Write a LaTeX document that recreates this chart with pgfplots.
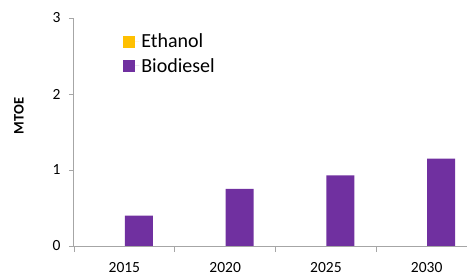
\documentclass[border=0pt]{standalone}
\usepackage{pgfplots}
\pgfplotsset{compat=1.18}
\usepackage{fontspec}
\setmainfont{Carlito}
\definecolor{biod}{HTML}{7030A0}
\definecolor{eth}{HTML}{FFC000}
\definecolor{axgray}{HTML}{A6A6A6}
\begin{document}
\begin{tikzpicture}
\begin{axis}[
  scale only axis,
  axis on top,
  width=393pt, height=228pt,
  xmin=-0.5, xmax=3.4,
  ymin=0, ymax=3,
  axis lines*=left,
  axis line style={axgray, line width=1pt},
  every tick/.style={axgray, line width=0.8pt},
  tick align=outside,
  xtick={0,1,2,3},
  xticklabels={2015,2020,2025,2030},
  major x tick style={draw=none},
  minor xtick={-0.5,0.5,1.5,2.5},
  minor tick length=6pt,
  ytick={0,1,2,3},
  major tick length=5pt,
  ticklabel style={font=\fontsize{15.5}{17}\selectfont, text=black},
  /pgf/number format/assume math mode=true,
  ylabel={\bfseries MTOE},
  ylabel style={font=\fontsize{14.5}{16}\selectfont, at={(rel axis cs:0,0.5)}, anchor=center, xshift=16pt, yshift=55pt},
  xticklabel style={anchor=north, yshift=-8pt},
  yticklabel style={anchor=east, xshift=-5pt},
  legend style={draw=none, fill=none, at={(0.125,0.94)}, anchor=north west,
    font=\fontsize{20}{22}\selectfont, row sep=5pt, inner sep=0pt},
  legend cell align=left,
  legend image code/.code={\fill[#1] (0pt,-6pt) rectangle (12pt,6pt); \path (0pt,0pt) -- (16pt,0pt);},
  clip=false,
]
\addplot[ybar, bar width=28pt, bar shift=-14.5pt, draw=none, fill=eth] coordinates {(0,0) (1,0) (2,0) (3,0)};
\addlegendentry{Ethanol}
\addplot[ybar, bar width=28pt, bar shift=14.5pt, draw=none, fill=biod] coordinates {(0,0.40) (1,0.75) (2,0.93) (3,1.15)};
\addlegendentry{Biodiesel}
\coordinate (ll) at (rel axis cs:0,0);
\coordinate (ur) at (rel axis cs:1,1);
\end{axis}
\pgfresetboundingbox
\path ([shift={(-74pt,-32pt)}]ll) rectangle ([shift={(0pt,18pt)}]ur);
\end{tikzpicture}
\end{document}
